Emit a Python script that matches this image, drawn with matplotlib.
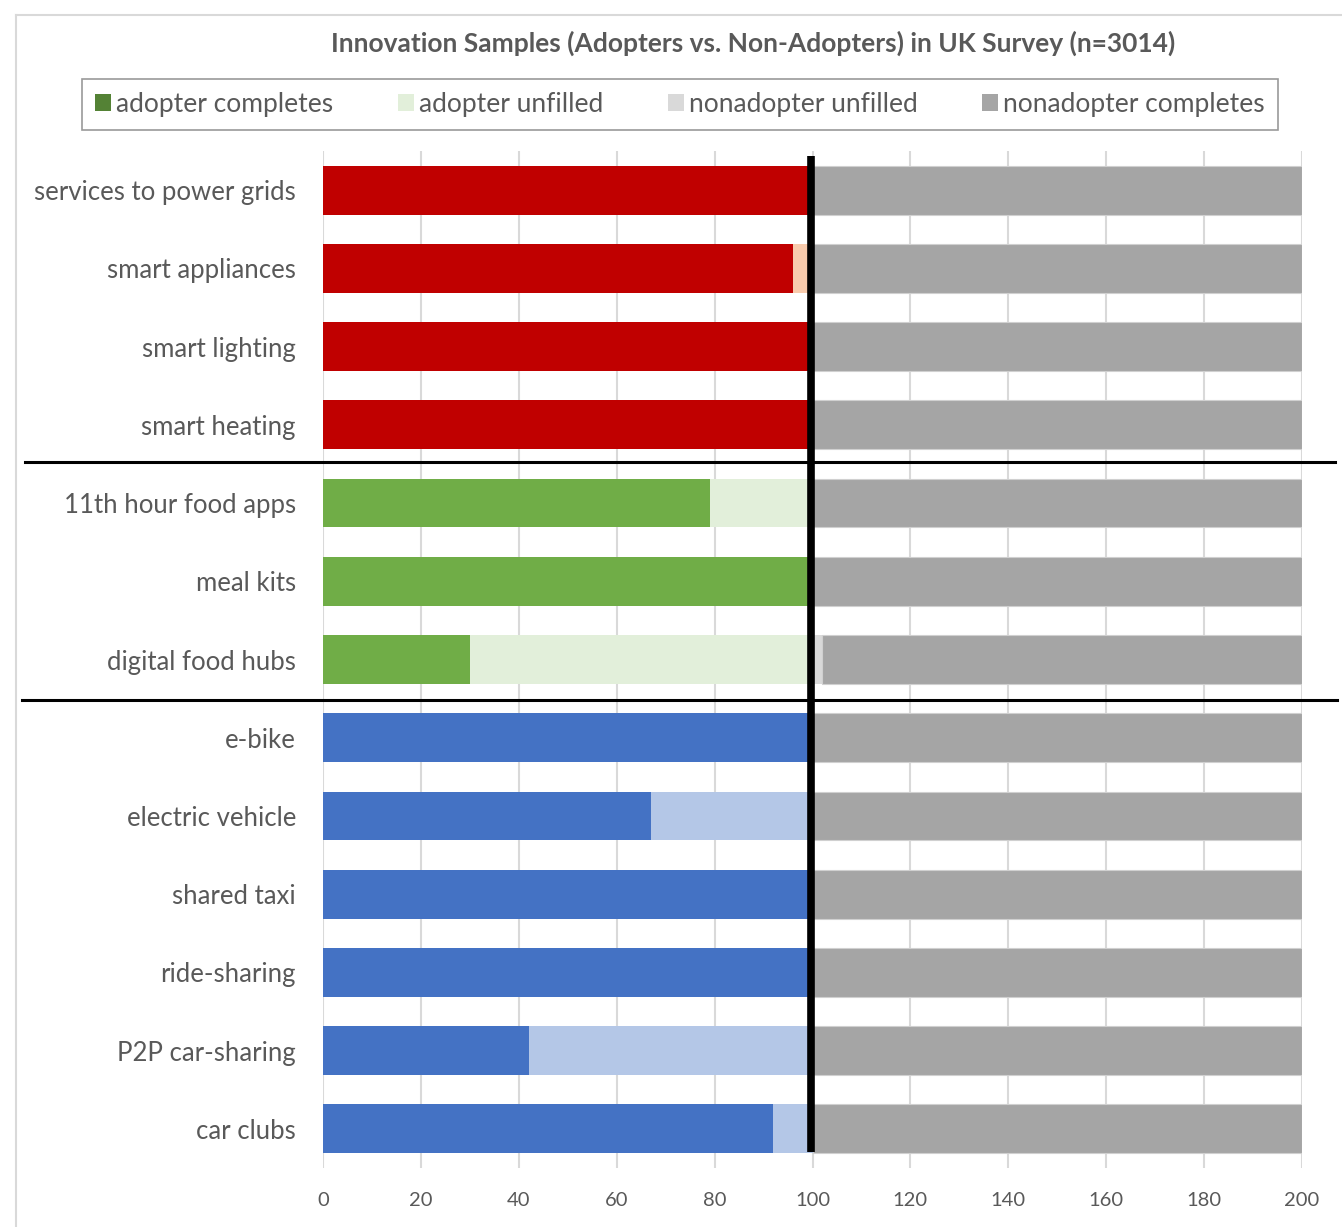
import matplotlib
matplotlib.use("Agg")
import matplotlib.pyplot as plt
import matplotlib.transforms as mtrans
from matplotlib.patches import Patch
from matplotlib.lines import Line2D

categories = ["services to power grids", "smart appliances", "smart lighting", "smart heating",
              "11th hour food apps", "meal kits", "digital food hubs",
              "e-bike", "electric vehicle", "shared taxi", "ride-sharing", "P2P car-sharing", "car clubs"]
adopter_complete = [100, 96, 100, 100, 79, 100, 30, 100, 67, 100, 100, 42, 92]
adopter_unfilled = [0, 4, 0, 0, 21, 0, 70, 0, 33, 0, 0, 58, 8]
nonadopter_unfilled = [0, 0, 0, 0, 0, 0, 2, 0, 0, 0, 0, 0, 0]
nonadopter_complete = [100, 100, 100, 100, 100, 100, 98, 100, 100, 100, 100, 100, 100]
groups = ["energy"] * 4 + ["food"] * 3 + ["mobility"] * 6
xticks = [0, 20, 40, 60, 80, 100, 120, 140, 160, 180, 200]
title = "Innovation Samples (Adopters vs. Non-Adopters) in UK Survey (n=3014)"
legend_labels = ["adopter completes", "adopter unfilled", "nonadopter unfilled", "nonadopter completes"]

dark_col = {"energy": "#C00000", "food": "#70AD47", "mobility": "#4472C4"}
light_col = {"energy": "#F8CBAD", "food": "#E2EFDA", "mobility": "#B4C7E7"}
grey = "#A5A5A5"
light_grey = "#D9D9D9"
text_col = "#595959"

plt.rcParams['font.family'] = ['Lato', 'DejaVu Sans']

W, H = 1342, 1227
fig = plt.figure(figsize=(W / 100, H / 100), dpi=100)

ax = fig.add_axes([323 / W, 1 - 1168 / H, (1302 - 323) / W, (1168 - 151) / H])

y = list(range(len(categories)))
bh = 0.625
left = [0] * len(y)
ax.barh(y, adopter_complete, height=bh, left=left,
        color=[dark_col[g] for g in groups], zorder=2)
left = [a for a in adopter_complete]
ax.barh(y, adopter_unfilled, height=bh, left=left,
        color=[light_col[g] for g in groups], zorder=2)
left = [a + b for a, b in zip(adopter_complete, adopter_unfilled)]
ax.barh(y, nonadopter_unfilled, height=bh, left=left, color=light_grey, zorder=2)
left = [a + b + c for a, b, c in zip(adopter_complete, adopter_unfilled, nonadopter_unfilled)]
ax.barh(y, nonadopter_complete, height=bh, left=left, color=grey,
        edgecolor="#D0D0D0", linewidth=0.8, zorder=2)

ax.set_xlim(0, 200)
ax.set_ylim(len(categories) - 0.5, -0.5)
ax.set_xticks(xticks)
ax.set_yticks(y)
ax.set_yticklabels(categories)
ax.tick_params(axis='y', length=0, pad=19.5, labelsize=18.5, labelcolor=text_col)
ax.tick_params(axis='x', length=0, pad=17, labelsize=14.5, labelcolor=text_col)
ax.grid(axis='x', color=light_grey, linewidth=1.5, zorder=0)
ax.set_axisbelow(True)
for s in ax.spines.values():
    s.set_visible(False)

# vertical divider at 100
ax.plot([99.6, 99.6], [-0.43, 12.3], color="black", linewidth=5.5, zorder=5, solid_capstyle='butt')

# horizontal separators between groups
tr = mtrans.blended_transform_factory(fig.transFigure, ax.transData)
ax.plot([25 / W, 1335 / W], [3.48, 3.48], color="black", linewidth=2.2, transform=tr, clip_on=False, zorder=6)
ax.plot([22 / W, 1337 / W], [6.52, 6.52], color="black", linewidth=2.2, transform=tr, clip_on=False, zorder=6)

# outer frame
fig.add_artist(Line2D([16 / W, 16 / W], [0, 1 - 15 / H], color=light_grey, linewidth=1.5, transform=fig.transFigure))
fig.add_artist(Line2D([16 / W, 1], [1 - 15 / H, 1 - 15 / H], color=light_grey, linewidth=1.5, transform=fig.transFigure))

fig.text(753 / W, 1 - 43 / H, title, ha='center', va='center', fontsize=19,
         fontweight='bold', color=text_col)

handles = [Patch(facecolor="#548235"), Patch(facecolor="#E2EFDA"),
           Patch(facecolor=light_grey), Patch(facecolor=grey)]
leg = fig.legend(handles, legend_labels, ncol=4, loc='center',
                 bbox_to_anchor=(680 / W, 1 - 104.5 / H), fontsize=19,
                 frameon=True, fancybox=False, edgecolor="#808080",
                 handlelength=0.6, handleheight=0.6, handletextpad=0.2,
                 columnspacing=2.45, borderpad=0.48, labelcolor=text_col)
leg.get_frame().set_linewidth(1.2)

fig.savefig("out.png", dpi=100)
